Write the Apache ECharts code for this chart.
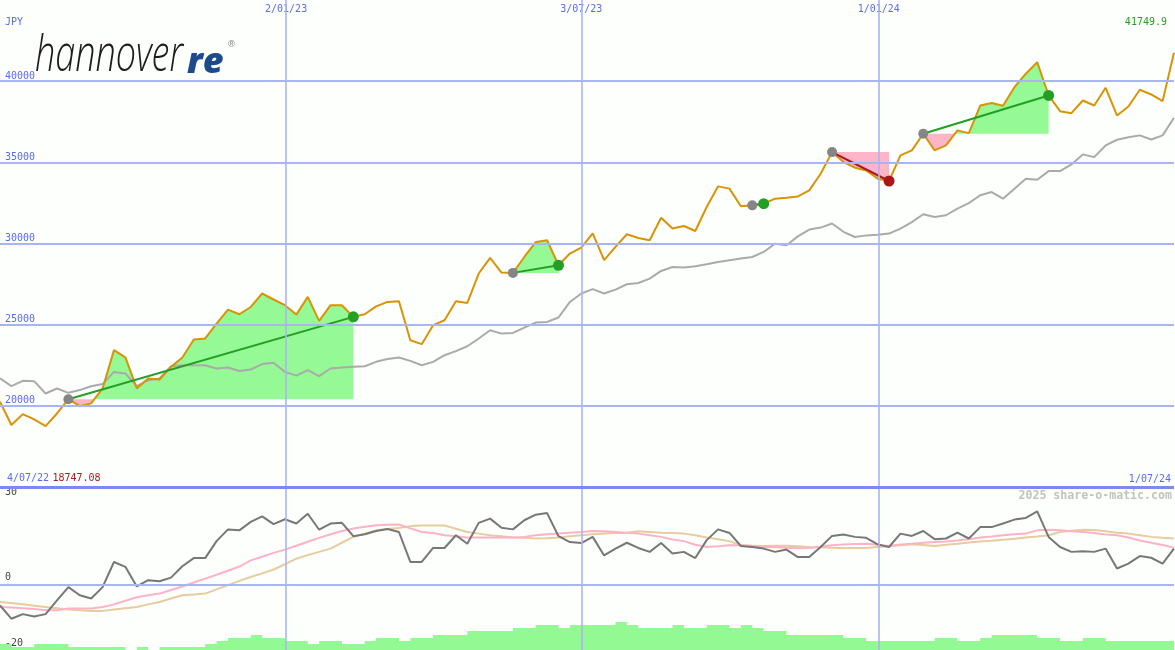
<!DOCTYPE html>
<html>
<head>
<meta charset="utf-8">
<script src="https://cdn.jsdelivr.net/npm/echarts@6/dist/echarts.min.js"></script>
<style>
  html, body { margin: 0; padding: 0; background: #fdfffd; }
  #chart { width: 1175px; height: 650px; }
</style>
</head>
<body>
<div id="chart"></div>
<script>
// ---------------- DATA ----------------
const currency = 'JPY';
const startLabel = '4/07/22';
const endLabel = '1/07/24';
const dateTickLabels = ['2/01/23', '3/07/23', '1/01/24'];
const dateTickIndex = [25.1, 51.0, 77.1];
const priceTicks = [20000, 25000, 30000, 35000, 40000];
const momentumTicks = [-20, 0, 30];

// weekly closing price (JPY)
const price = [
  20250, 18820, 19490, 19160, 18747.08, 19530, 20410, 19980, 20150, 21070,
  23430, 22980, 21070, 21690, 21620, 22400, 22980, 24090, 24150, 25070,
  25930, 25640, 26090, 26920, 26550, 26200, 25620, 26710, 25230, 26200,
  26200, 25480, 25640, 26130, 26400, 26440, 24040, 23800, 24970, 25270,
  26440, 26340, 28150, 29110, 28210, 28190, 29170, 30090, 30200, 28660,
  29380, 29750, 30630, 28970, 29790, 30570, 30340, 30200, 31590, 30920,
  31080, 30770, 32250, 33520, 33380, 32290, 32350, 32450, 32760, 32820,
  32900, 33270, 34300, 35630, 35020, 34670, 34500, 33990, 33850, 35430,
  35740, 36760, 35740, 36040, 36970, 36800, 38500, 38650, 38490, 39630,
  40460, 41170, 39120, 38150, 38030, 38810, 38500, 39590, 37890, 38440,
  39470, 39180, 38770, 41749.9
];

// benchmark index, rescaled to the price
const benchmark = [
  21690, 21210, 21540, 21520, 20760, 21070, 20800, 20970, 21210, 21340,
  22090, 21990, 21210, 21580, 21690, 22440, 22500, 22500, 22500, 22300,
  22360, 22150, 22240, 22570, 22650, 22090, 21860, 22200, 21830, 22300,
  22360, 22400, 22440, 22710, 22890, 22980, 22770, 22500, 22710, 23120,
  23370, 23670, 24150, 24660, 24450, 24490, 24820, 25130, 25170, 25440,
  26400, 26920, 27190, 26920, 27160, 27490, 27570, 27840, 28310, 28550,
  28520, 28600, 28720, 28860, 28970, 29070, 29170, 29480, 29990, 29890,
  30440, 30860, 30980, 31230, 30720, 30400, 30500, 30540, 30610, 30920,
  31320, 31800, 31630, 31740, 32150, 32490, 32970, 33170, 32760, 33380,
  33990, 33930, 34460, 34460, 34870, 35490, 35320, 36040, 36390, 36550,
  36660, 36410, 36660, 37750
];

// trend segments (start / end week index)
const trendStart = [6, 45, 66, 73, 81];
const trendEnd   = [31, 49, 67, 78, 92];

// momentum indicator and its two averages
const momentum = [
  -6.3, -10.4, -9.0, -9.7, -9.0, -4.8, -0.7, -3.2, -4.2, -0.7,
  7.0, 5.5, -0.5, 1.4, 1.1, 2.2, 5.7, 8.2, 8.2, 13.4,
  17.0, 16.7, 19.3, 21.0, 18.6, 20.1, 18.8, 21.8, 16.9, 18.8,
  19.0, 14.9, 15.5, 16.5, 17.1, 16.2, 7.0, 7.0, 11.3, 11.3,
  15.2, 12.6, 19.0, 20.3, 17.5, 17.0, 19.8, 21.5, 22.0, 14.9,
  13.1, 12.8, 14.7, 9.0, 11.1, 12.9, 11.3, 10.1, 12.8, 9.6,
  10.1, 8.2, 13.7, 17.0, 15.9, 11.9, 11.6, 11.1, 10.1, 10.8,
  8.5, 8.5, 11.6, 15.0, 15.4, 14.7, 14.4, 12.4, 11.6, 15.7,
  15.0, 16.5, 14.0, 14.2, 16.0, 14.2, 17.7, 17.7, 18.8, 20.0,
  20.5, 22.5, 14.7, 11.6, 10.1, 10.3, 10.1, 11.1, 5.0, 6.5,
  8.8, 8.3, 6.5, 11.1
];
const avgFast = [
  -6.8, -7.0, -7.2, -7.4, -7.8, -7.8, -7.3, -7.3, -7.3, -6.8,
  -6.0, -4.9, -3.8, -3.2, -2.7, -1.6, -0.5, 0.7, 1.9, 3.1,
  4.3, 5.6, 7.5, 8.6, 9.8, 10.8, 12.0, 13.2, 14.4, 15.5,
  16.5, 17.3, 17.8, 18.3, 18.4, 18.5, 17.3, 16.2, 15.9, 15.2,
  14.9, 14.5, 14.5, 14.5, 14.5, 14.5, 14.7, 15.2, 15.5, 15.7,
  16.0, 16.2, 16.5, 16.4, 16.2, 16.0, 15.7, 15.2, 14.7, 13.9,
  13.4, 12.3, 11.6, 11.8, 12.1, 12.1, 11.9, 11.6, 11.6, 11.4,
  11.2, 11.3, 11.7, 12.1, 12.4, 12.5, 12.6, 12.3, 11.9, 12.4,
  12.6, 12.9, 13.1, 13.3, 13.6, 14.0, 14.5, 14.8, 15.2, 15.5,
  15.7, 16.7, 16.9, 16.7, 16.4, 16.2, 15.9, 15.4, 15.2, 14.5,
  13.6, 12.9, 12.2, 11.4
];
const avgSlow = [
  -5.3, -5.6, -6.0, -6.4, -6.8, -7.2, -7.6, -7.8, -8.0, -8.0,
  -7.6, -7.2, -6.8, -6.0, -5.3, -4.2, -3.2, -3.0, -2.7, -1.4,
  -0.1, 1.2, 2.4, 3.5, 4.7, 6.3, 8.0, 9.1, 10.1, 11.1,
  12.9, 14.7, 15.7, 16.7, 17.1, 17.4, 18.0, 18.2, 18.2, 18.2,
  17.2, 16.2, 15.7, 15.2, 14.9, 14.5, 14.4, 14.2, 14.3, 14.5,
  14.9, 15.2, 15.5, 15.7, 15.9, 16.0, 16.4, 16.2, 16.0, 15.9,
  15.7, 15.2, 14.5, 14.0, 13.4, 12.1, 12.0, 11.9, 12.0, 12.0,
  11.8, 11.6, 11.5, 11.4, 11.3, 11.3, 11.3, 11.6, 11.8, 12.1,
  12.4, 12.2, 11.9, 12.3, 12.6, 13.0, 13.3, 13.5, 13.8, 14.1,
  14.5, 14.8, 15.2, 16.2, 16.6, 16.9, 16.8, 16.4, 16.0, 15.7,
  15.2, 14.7, 14.4, 14.2
];
// relative weekly volume
const volume = [
  6, 3, 3, 6, 6, 6, 3, 3, 3, 3,
  3, 0, 3, 0, 3, 3, 3, 3, 6, 9,
  12, 12, 15, 12, 12, 9, 9, 6, 9, 9,
  6, 6, 9, 12, 12, 9, 12, 12, 15, 15,
  15, 19, 19, 19, 19, 22, 22, 25, 25, 22,
  25, 25, 25, 25, 28, 25, 22, 22, 22, 25,
  22, 22, 25, 25, 22, 25, 22, 19, 19, 15,
  15, 15, 15, 15, 12, 12, 9, 9, 9, 9,
  9, 9, 12, 12, 9, 9, 12, 15, 15, 15,
  15, 12, 12, 9, 9, 12, 12, 9, 9, 9,
  9, 9, 9, 9
];

// ---------------- CHART ----------------
const N = price.length;
const idx = (arr) => arr.map((v, i) => [i, v]);
const MONO = 'DejaVu Sans Mono';
const BLUE_TXT = '#5a6bf2';
const GRID_COL = '#a9b5f2';
const GREEN_FILL = '#95f995';
const PINK_FILL = '#ffb5c8';
const minPrice = Math.min.apply(null, price);
const lastPrice = price[N - 1];

function fillRender(params, api) {
  const s = api.value(0), e = api.value(1);
  const baseY = api.coord([s, price[s]])[1];
  const pts = [];
  for (let i = s; i <= e; i++) pts.push(api.coord([i, price[i]]));
  function build(above) {
    const out = [];
    const clampY = (y) => above ? Math.min(y, baseY) : Math.max(y, baseY);
    for (let k = 0; k < pts.length; k++) {
      const p = pts[k];
      out.push([p[0], clampY(p[1])]);
      if (k < pts.length - 1) {
        const q = pts[k + 1];
        if ((p[1] - baseY) * (q[1] - baseY) < 0) {
          const t = (baseY - p[1]) / (q[1] - p[1]);
          out.push([p[0] + t * (q[0] - p[0]), baseY]);
        }
      }
    }
    out.push([pts[pts.length - 1][0], baseY]);
    out.push([pts[0][0], baseY]);
    return out;
  }
  return {
    type: 'group',
    children: [
      { type: 'polygon', shape: { points: build(true) }, style: { fill: GREEN_FILL } },
      { type: 'polygon', shape: { points: build(false) }, style: { fill: PINK_FILL } }
    ]
  };
}

function trendRender(params, api) {
  const s = api.value(0), e = api.value(1);
  const a = api.coord([s, price[s]]);
  const b = api.coord([e, price[e]]);
  const up = price[e] >= price[s];
  const col = up ? '#23a023' : '#ab1717';
  return {
    type: 'group',
    children: [
      { type: 'line', shape: { x1: a[0], y1: a[1], x2: b[0], y2: b[1] }, style: { stroke: col, lineWidth: 2 } },
      { type: 'circle', shape: { cx: a[0], cy: a[1], r: 5 }, style: { fill: '#858585' } },
      { type: 'circle', shape: { cx: b[0], cy: b[1], r: 5.5 }, style: { fill: col } }
    ]
  };
}

const chart = echarts.init(document.getElementById('chart'), null, { renderer: 'canvas' });

const option = {
  animation: false,
  backgroundColor: '#fdfffd',
  grid: [
    { left: 0, right: 1, top: 0, height: 487 },
    { left: 0, right: 1, top: 487, height: 163 }
  ],
  xAxis: [
    { // top date labels
      type: 'value', gridIndex: 0, min: 0, max: N - 1, position: 'top',
      axisLine: { show: false }, axisTick: { show: false }, splitLine: { show: false },
      axisLabel: {
        inside: true, margin: 4, customValues: dateTickIndex,
        formatter: (v) => dateTickLabels[dateTickIndex.indexOf(v)],
        color: BLUE_TXT, fontFamily: MONO, fontSize: 10
      }
    },
    { // start / end labels
      type: 'value', gridIndex: 0, min: 0, max: N - 1, position: 'bottom',
      axisLine: { show: false }, axisTick: { show: false }, splitLine: { show: false },
      axisLabel: {
        inside: true, margin: 3, customValues: [0, N - 1],
        alignMinLabel: 'left', alignMaxLabel: 'right',
        padding: [0, 3, 0, 7],
        formatter: (v) => v === 0 ? '{b|' + startLabel + '} {r|' + minPrice.toFixed(2) + '}' : '{b|' + endLabel + '}',
        rich: {
          b: { color: BLUE_TXT, fontFamily: MONO, fontSize: 10 },
          r: { color: '#a51c1c', fontFamily: MONO, fontSize: 10 }
        }
      }
    },
    {
      type: 'value', gridIndex: 1, min: 0, max: N - 1,
      axisLine: { show: false }, axisTick: { show: false }, splitLine: { show: false },
      axisLabel: { show: false }
    }
  ],
  yAxis: [
    {
      type: 'value', gridIndex: 0, min: 15000, max: 45000, interval: 5000, position: 'left',
      axisLine: { show: false }, axisTick: { show: false },
      splitLine: { show: false },
      axisLabel: {
        inside: true, margin: 5, verticalAlign: 'bottom',
        customValues: priceTicks, formatter: (v) => String(v),
        color: BLUE_TXT, fontFamily: MONO, fontSize: 10
      }
    },
    {
      type: 'value', gridIndex: 1, min: -20, max: 30, position: 'left',
      axisLine: { show: false }, axisTick: { show: false }, splitLine: { show: false },
      axisLabel: {
        inside: true, margin: 5, verticalAlign: 'bottom',
        customValues: momentumTicks.filter(v => v < 30), formatter: (v) => String(v),
        color: '#444', fontFamily: MONO, fontSize: 10, padding: [0, 0, 2, 0]
      }
    },
    {
      type: 'value', gridIndex: 1, min: 0, max: 163, show: false, position: 'right'
    },
    {
      type: 'value', gridIndex: 1, min: -20, max: 30, position: 'left', offset: 0,
      axisLine: { show: false }, axisTick: { show: false }, splitLine: { show: false },
      axisLabel: {
        inside: true, margin: 5, verticalAlign: 'top',
        customValues: momentumTicks.filter(v => v >= 30), formatter: (v) => String(v),
        color: '#444', fontFamily: MONO, fontSize: 10
      }
    }
  ],
  series: [
    { // grid lines, main panel
      type: 'line', xAxisIndex: 0, yAxisIndex: 0, data: [], z: 0, silent: true,
      markLine: {
        silent: true, symbol: 'none', label: { show: false }, animation: false,
        lineStyle: { color: GRID_COL, width: 2, type: 'solid' },
        data: priceTicks.map(v => ({ yAxis: v }))
          .concat(dateTickIndex.map(v => ({ xAxis: v, lineStyle: { color: GRID_COL, width: 1.6, type: 'solid' } })))
      }
    },
    { // grid lines, lower panel
      type: 'line', xAxisIndex: 2, yAxisIndex: 1, data: [], z: 0, silent: true,
      markLine: {
        silent: true, symbol: 'none', label: { show: false }, animation: false,
        lineStyle: { color: GRID_COL, width: 2, type: 'solid' },
        data: [{ yAxis: 0 }]
          .concat(dateTickIndex.map(v => ({ xAxis: v, lineStyle: { color: GRID_COL, width: 1.6, type: 'solid' } })))
          .concat([{ yAxis: 30, lineStyle: { color: '#7b8aee', width: 3, type: 'solid' } }])
      }
    },
    {
      type: 'custom', xAxisIndex: 0, yAxisIndex: 0, z: 1, silent: true,
      renderItem: fillRender, clip: true,
      encode: { x: [0, 1] },
      data: trendStart.map((s, k) => [s, trendEnd[k]])
    },
    {
      type: 'line', xAxisIndex: 0, yAxisIndex: 0, z: 2, silent: true,
      data: idx(benchmark), symbol: 'none',
      lineStyle: { color: '#aaaaaa', width: 2 }
    },
    {
      type: 'line', xAxisIndex: 0, yAxisIndex: 0, z: 3, silent: true,
      data: idx(price), symbol: 'none',
      lineStyle: { color: '#d99306', width: 2 }
    },
    {
      type: 'custom', xAxisIndex: 0, yAxisIndex: 0, z: 4, silent: true,
      renderItem: trendRender,
      encode: { x: [0, 1] },
      data: trendStart.map((s, k) => [s, trendEnd[k]])
    },
    { // volume
      type: 'line', xAxisIndex: 2, yAxisIndex: 2, z: 1, silent: true,
      step: 'end', data: idx(volume), symbol: 'none',
      lineStyle: { width: 0 }, areaStyle: { color: '#93f993', opacity: 1 }
    },
    {
      type: 'line', xAxisIndex: 2, yAxisIndex: 1, z: 2, silent: true,
      data: idx(avgSlow), symbol: 'none',
      lineStyle: { color: '#e6cc9e', width: 2 }
    },
    {
      type: 'line', xAxisIndex: 2, yAxisIndex: 1, z: 2, silent: true,
      data: idx(avgFast), symbol: 'none',
      lineStyle: { color: '#ffb2c6', width: 2 }
    },
    {
      type: 'line', xAxisIndex: 2, yAxisIndex: 1, z: 3, silent: true,
      data: idx(momentum), symbol: 'none',
      lineStyle: { color: '#777777', width: 2 }
    }
  ],
  graphic: [
    { type: 'text', left: 5, top: 17, style: { text: currency, fill: BLUE_TXT, font: '10px "DejaVu Sans Mono"' } },
    { type: 'text', right: 8, top: 17, style: { text: String(lastPrice), fill: '#23a023', font: '10px "DejaVu Sans Mono"' } },
    { type: 'text', right: 3, top: 490, style: { text: '2025 share-o-matic.com', fill: '#c2c2c2', font: 'bold 11.6px "DejaVu Sans Mono"' } },
    { type: 'text', x: 35, y: 82, scaleX: 0.72, style: { text: 'hannover', fill: '#1c1c1c', font: 'italic 300 50px "Open Sans"', textVerticalAlign: 'bottom' } },
    { type: 'text', x: 187, y: 81, style: { text: 're', fill: '#1d4a8c', font: 'italic 800 36px "Open Sans"', textVerticalAlign: 'bottom' } },
    { type: 'text', x: 227, y: 40, style: { text: '®', fill: '#888', font: '9px "DejaVu Sans"' } }
  ]
};
chart.setOption(option);
</script>
</body>
</html>
